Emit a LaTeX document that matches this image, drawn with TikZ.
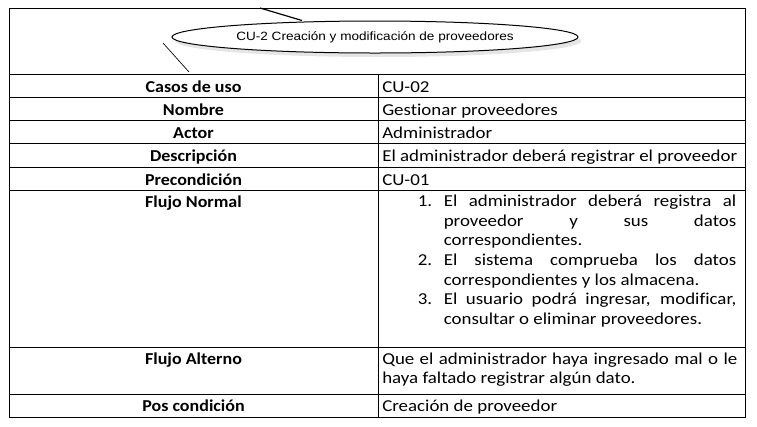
\documentclass[tikz,border=0pt]{standalone}
\usepackage{fontspec}
\setmainfont{Carlito}[Ligatures=NoCommon, UprightFeatures={FakeStretch=1.135}, BoldFeatures={FakeStretch=1.08}]
\newfontfamily\casofont{Liberation Sans}[FakeStretch=1.13]
\usetikzlibrary{shapes.geometric,shadows}

\tikzset{
    borde/.style={line width=0.75pt},
    etiqueta/.style={anchor=base, inner sep=0pt, font=\bfseries\fontsize{12.5pt}{14.7pt}\selectfont},
    valor/.style={anchor=base west, inner sep=0pt, font=\fontsize{12.5pt}{14.7pt}\selectfont},
    parrafo/.style={valor, align=justify},
    caso/.style={ellipse, draw, fill=white, line width=0.75pt, minimum width=304.5pt,
        minimum height=24pt, inner sep=0pt, font=\casofont\fontsize{9pt}{11pt}\selectfont,
        drop shadow={shadow xshift=2.5pt, shadow yshift=-3pt, fill=black!10, opacity=1}},
}

\begin{document}
\begin{tikzpicture}[x=0.75pt,y=-0.75pt]
    \useasboundingbox (0,0) rectangle (757,426);

    % Cuadro de la tabla
    \draw[borde] (9,8) rectangle (745,417);
    \foreach \y in {74,97,120,143,167,190,347,394} {
        \draw[borde] (9,\y) -- (745,\y);
    }
    \draw[borde] (378,74) -- (378,417);

    % Caso de uso en la cabecera
    \coordinate (A1) at (260,8);
    \coordinate (A2) at (302,20.5);
    \coordinate (B1) at (163,43);
    \coordinate (B2) at (189,72);
    \draw[line width=0.9pt] (A1) -- (A2);
    \draw[line width=0.5pt] (B1) -- (B2);
    \node[caso] (cu) at (375,37) {CU-2 Creación y modificación de proveedores};

    % Columna izquierda
    \foreach \y/\t in {92/Casos de uso, 115/Nombre, 138/Actor, 161/Descripción,
                       185/Precondición, 207/Flujo Normal, 364/Flujo Alterno, 411/Pos condición} {
        \node[etiqueta] (e\y) at (193.5,\y) {\t};
    }

    % Columna derecha
    \foreach \y/\t in {92/CU-02, 115/Gestionar proveedores, 138/Administrador,
                       161/El administrador deberá registrar el proveedor, 185/CU-01,
                       411/Creación de proveedor} {
        \node[valor] (v\y) at (382,\y) {\t};
    }

    % Flujo normal
    \node[valor] (n1) at (417.5,206.7) {1.};
    \node[valor] (n2) at (417.5,265.5) {2.};
    \node[valor] (n3) at (417.5,304.7) {3.};
    \node[parrafo, text width=219.4pt] (f1) at (443.5,206.7)
        {El administrador deberá registra al\linebreak proveedor y sus datos\linebreak correspondientes.};
    \node[parrafo, text width=219.4pt] (f2) at (443.5,265.5)
        {El sistema comprueba los datos\linebreak correspondientes y los almacena.};
    \node[parrafo, text width=219.4pt] (f3) at (443.5,304.7)
        {El usuario podrá ingresar, modificar,\linebreak consultar o eliminar proveedores.};

    % Flujo alterno
    \node[parrafo, text width=266.3pt] (alt) at (382,364)
        {Que el administrador haya ingresado mal o le\linebreak haya faltado registrar algún dato.};

\end{tikzpicture}
\end{document}
